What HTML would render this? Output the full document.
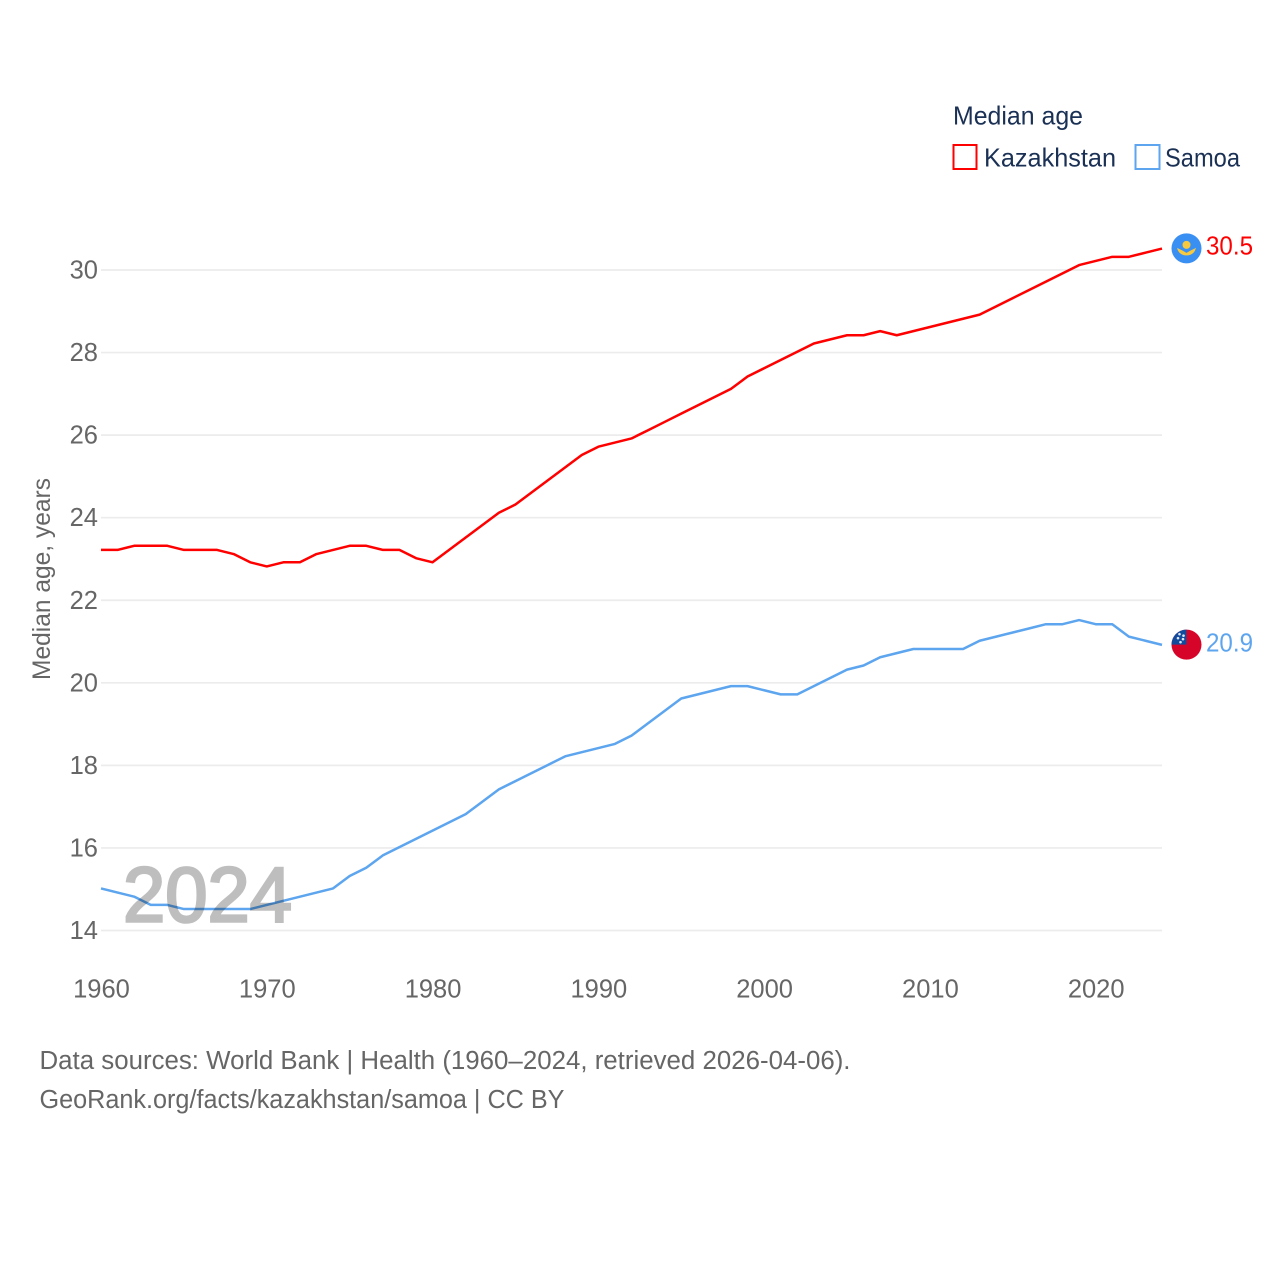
<!DOCTYPE html>
<html lang="en">
<head>
<meta charset="utf-8">
<title>Median age: Kazakhstan and Samoa</title>
<style>
html,body{margin:0;padding:0;background:#fff}
svg{display:block}
text{font-family:"Liberation Sans",sans-serif}
</style>
</head>
<body>
<svg id="chart" xmlns="http://www.w3.org/2000/svg" width="1280" height="1280" viewBox="0 0 1280 1280">
  <rect width="1280" height="1280" fill="#fff"/>
  <g id="grid"></g>
  <g id="yticks"></g>
  <g id="xticks"></g>
  <text transform="translate(50,579) rotate(-90)" text-anchor="middle" font-size="25" fill="#666" textLength="202" lengthAdjust="spacingAndGlyphs">Median age, years</text>
  <g id="series"></g>
  <g opacity="0.25">
    <text x="123" y="921.5" font-size="78" fill="#000" stroke="#000" stroke-width="2.6" textLength="169" lengthAdjust="spacingAndGlyphs">2024</text>
  </g>
  <g>
    <text x="953" y="124.5" font-size="26" fill="#1a3054" textLength="130" lengthAdjust="spacingAndGlyphs">Median age</text>
    <rect x="953.5" y="145" width="23" height="24" fill="none" stroke="#ff0000" stroke-width="2"/>
    <text x="984" y="166.5" font-size="26" fill="#1a3054" textLength="132" lengthAdjust="spacingAndGlyphs">Kazakhstan</text>
    <rect x="1135.5" y="145" width="24" height="24" fill="none" stroke="#5da5ee" stroke-width="2"/>
    <text x="1165" y="166.5" font-size="26" fill="#1a3054" textLength="75" lengthAdjust="spacingAndGlyphs">Samoa</text>
  </g>
  <g id="ends"></g>
  <text x="39.5" y="1069" font-size="25.5" fill="#666" textLength="811" lengthAdjust="spacingAndGlyphs">Data sources: World Bank | Health (1960–2024, retrieved 2026-04-06).</text>
  <text x="39.5" y="1108" font-size="25.5" fill="#666" textLength="525" lengthAdjust="spacingAndGlyphs">GeoRank.org/facts/kazakhstan/samoa | CC BY</text>
</svg>
<script>
const years = [1960,1961,1962,1963,1964,1965,1966,1967,1968,1969,1970,1971,1972,1973,1974,1975,1976,1977,1978,1979,1980,1981,1982,1983,1984,1985,1986,1987,1988,1989,1990,1991,1992,1993,1994,1995,1996,1997,1998,1999,2000,2001,2002,2003,2004,2005,2006,2007,2008,2009,2010,2011,2012,2013,2014,2015,2016,2017,2018,2019,2020,2021,2022,2023,2024];
const kazakhstan = [23.2,23.2,23.3,23.3,23.3,23.2,23.2,23.2,23.1,22.9,22.8,22.9,22.9,23.1,23.2,23.3,23.3,23.2,23.2,23.0,22.9,23.2,23.5,23.8,24.1,24.3,24.6,24.9,25.2,25.5,25.7,25.8,25.9,26.1,26.3,26.5,26.7,26.9,27.1,27.4,27.6,27.8,28.0,28.2,28.3,28.4,28.4,28.5,28.4,28.5,28.6,28.7,28.8,28.9,29.1,29.3,29.5,29.7,29.9,30.1,30.2,30.3,30.3,30.4,30.5];
const samoa = [15.0,14.9,14.8,14.6,14.6,14.5,14.5,14.5,14.5,14.5,14.6,14.7,14.8,14.9,15.0,15.3,15.5,15.8,16.0,16.2,16.4,16.6,16.8,17.1,17.4,17.6,17.8,18.0,18.2,18.3,18.4,18.5,18.7,19.0,19.3,19.6,19.7,19.8,19.9,19.9,19.8,19.7,19.7,19.9,20.1,20.3,20.4,20.6,20.7,20.8,20.8,20.8,20.8,21.0,21.1,21.2,21.3,21.4,21.4,21.5,21.4,21.4,21.1,21.0,20.9];
const yTickValues = [14,16,18,20,22,24,26,28,30];
const xTickValues = [1960,1970,1980,1990,2000,2010,2020];

const NS = 'http://www.w3.org/2000/svg';
const xScale = v => 101 + (v - 1960) * (1162 - 101) / 64;
const yScale = v => 930.5 - (v - 14) * (930.5 - 270) / 16;
const make = (tag, parent, attrs) => {
  const el = document.createElementNS(NS, tag);
  for (const k in attrs) el.setAttribute(k, attrs[k]);
  parent.appendChild(el);
  return el;
};

const grid = document.getElementById('grid');
const yG = document.getElementById('yticks');
const xG = document.getElementById('xticks');
yTickValues.forEach(v => {
  const line = make('line', grid, {x1: 101, x2: 1162, y1: yScale(v), y2: yScale(v), stroke: '#ececec', 'stroke-width': 1.7});
  
  
  const t = make('text', yG, {x: 98, y: yScale(v) + 8.5, 'text-anchor': 'end', 'font-size': 25.5, fill: '#666'});
  t.textContent = v;
  
  
});
xTickValues.forEach(v => {
  const t = make('text', xG, {x: xScale(v) + 0.5, y: 997.5, 'text-anchor': 'middle', 'font-size': 25.5, fill: '#666'});
  t.textContent = v;
  
  
});

const seriesG = document.getElementById('series');
const pathFor = vals => vals.map((v, i) => (i ? 'L' : 'M') + xScale(years[i]).toFixed(2) + ' ' + (yScale(v) - 0.8).toFixed(2)).join(' ');
const kzLine = make('path', seriesG, {d: pathFor(kazakhstan), fill: 'none', stroke: '#ff0000', 'stroke-width': 2.5, 'stroke-linejoin': 'round'});


const wsLine = make('path', seriesG, {d: pathFor(samoa), fill: 'none', stroke: '#5da5ee', 'stroke-width': 2.5, 'stroke-linejoin': 'round'});



const ends = document.getElementById('ends');
const kzLast = kazakhstan[kazakhstan.length - 1];
const wsLast = samoa[samoa.length - 1];
const fx = 1186.5;
const kzY = yScale(kzLast) - 1;
const wsY = yScale(wsLast) - 1;

const kzFlag = make('g', ends, {transform: 'translate(' + fx + ',' + kzY + ')'});


make('circle', kzFlag, {r: 15, fill: '#3a8ff2'});
make('circle', kzFlag, {cx: 0, cy: -3.5, r: 4, fill: '#f7c93e'});
make('path', kzFlag, {d: 'M-9.5 -0.5 Q-4 2 0 4.5 Q4 2 9.5 -0.5 Q8 6 1.5 7 L-1.5 7 Q-8 6 -9.5 -0.5 Z', fill: '#f7c93e'});

const wsFlag = make('g', ends, {transform: 'translate(' + fx + ',' + wsY + ')'});


make('circle', wsFlag, {r: 15, fill: '#d7042a'});
make('path', wsFlag, {d: 'M0 0 L-15 0 A15 15 0 0 1 0 -15 Z', fill: '#134b9c'});
[[-7,-10.5],[-3,-9],[-8.5,-6.5],[-3.5,-5.5],[-6,-2.5]].forEach(s => {
  make('circle', wsFlag, {cx: s[0], cy: s[1], r: 1.3, fill: '#dfe8f5'});
});

const kzVal = make('text', ends, {x: 1206, y: kzY + 6, 'font-size': 25.5, fill: '#ff0000', textLength: 47, lengthAdjust: 'spacingAndGlyphs'});
kzVal.textContent = kzLast.toFixed(1);


const wsVal = make('text', ends, {x: 1206, y: wsY + 7, 'font-size': 25.5, fill: '#5da5ee', textLength: 47, lengthAdjust: 'spacingAndGlyphs'});
wsVal.textContent = wsLast.toFixed(1);


</script>
</body>
</html>
